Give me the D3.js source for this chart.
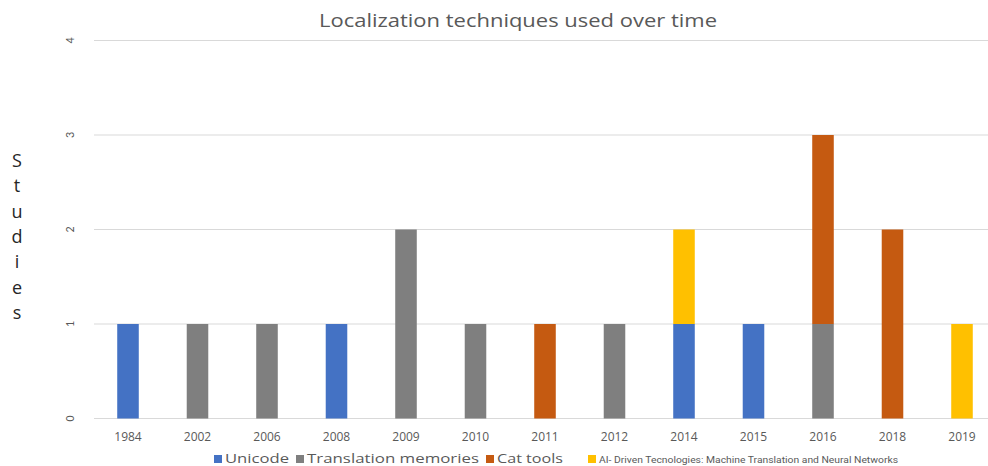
<!DOCTYPE html>
<html><head><meta charset="utf-8">
<script src="https://cdn.jsdelivr.net/npm/d3@7"></script>
<style>body{margin:0;background:#fff;overflow:hidden}svg{display:block}</style>
</head><body><svg id="c" width="988" height="466"></svg>
<script>
const years = ["1984","2002","2006","2008","2009","2010","2011","2012","2014","2015","2016","2018","2019"];
const seriesNames = ["Unicode","Translation memories","Cat tools","AI- Driven Tecnologies: Machine Translation and Neural Networks"];
const unicode =     [1,0,0,1,0,0,0,0,1,1,0,0,0];
const translationMemories = [0,1,1,0,2,1,0,1,0,0,1,0,0];
const catTools =    [0,0,0,0,0,0,1,0,0,0,2,2,0];
const aiDriven =    [0,0,0,0,0,0,0,0,1,0,0,0,1];
const yTicks = [0,1,2,3,4];
const colors = ["#4472C4","#7F7F7F","#C55A11","#FFC000"];

const svg = d3.select("#c");
const rows = years.map((y,i)=>({year:y, s0:unicode[i], s1:translationMemories[i], s2:catTools[i], s3:aiDriven[i]}));
const stack = d3.stack().keys(["s0","s1","s2","s3"])(rows);

const x = d3.scaleBand().domain(years).range([93.25, 996.75]).paddingInner(0.69).paddingOuter(0.345);
const y = d3.scaleLinear().domain([0,4]).range([418.5, 40.5]);

// gridlines
svg.append("g").selectAll("line").data(yTicks).join("line")
  .attr("x1",94).attr("x2",988)
  .attr("y1",d=>y(d)).attr("y2",d=>y(d))
  .attr("stroke","#d9d9d9").attr("stroke-width",1);

// y tick labels rotated
svg.append("g").selectAll("text").data(yTicks).join("text")
  .attr("transform",d=>`translate(74,${y(d)}) rotate(-90)`)
  .attr("text-anchor","middle").attr("font-family","Calibri, Carlito, 'Liberation Sans', sans-serif")
  .attr("font-size",12).attr("fill","#595959").text(d=>d);

// bars
svg.append("g").selectAll("g").data(stack).join("g")
  .attr("fill",(d,i)=>colors[i])
  .selectAll("rect").data(d=>d.filter(p=>p[1]>p[0])).join("rect")
  .attr("x",d=>x(d.data.year)).attr("width",x.bandwidth())
  .attr("y",d=>y(d[1])).attr("height",d=>y(d[0])-y(d[1]));

// x labels
svg.append("g").selectAll("text").data(years).join("text")
  .attr("x",d=>x(d)+x.bandwidth()/2).attr("y",441)
  .attr("text-anchor","middle").attr("font-family","'Open Sans', 'Noto Sans', sans-serif")
  .attr("font-size",12).attr("fill","#595959").text(d=>d);

// title
svg.append("text").attr("x",518).attr("y",27).attr("text-anchor","middle")
  .attr("font-family","'Open Sans', 'Noto Sans', sans-serif").attr("font-size",18)
  .attr("textLength",398).attr("lengthAdjust","spacingAndGlyphs")
  .attr("fill","#595959").text("Localization techniques used over time");

// y-axis title: stacked letters
const ytitle = "Studies".split("");
svg.append("g").selectAll("text").data(ytitle).join("text")
  .attr("x",17).attr("y",(d,i)=>167+i*25.3).attr("text-anchor","middle")
  .attr("font-family","'Open Sans', 'Noto Sans', sans-serif").attr("font-size",18)
  .attr("fill","#262626").text(d=>d);

// legend
const legendPos = [
  {sx:214, tx:225, tw:64, fs:12, ff:"'Open Sans', sans-serif"},
  {sx:296, tx:307, tw:172, fs:12, ff:"'Open Sans', sans-serif"},
  {sx:486, tx:497, tw:66, fs:12, ff:"'Open Sans', sans-serif"},
  {sx:588, tx:599, tw:299, fs:9, ff:"'Liberation Sans Narrow','Arial Narrow',Roboto,sans-serif"}
];
const lg = svg.append("g").selectAll("g").data(seriesNames).join("g");
lg.append("rect").attr("x",(d,i)=>legendPos[i].sx).attr("y",455).attr("width",8).attr("height",8)
  .attr("fill",(d,i)=>colors[i]);
lg.append("text").attr("x",(d,i)=>legendPos[i].tx).attr("y",463)
  .attr("font-family",(d,i)=>legendPos[i].ff).attr("font-size",(d,i)=>legendPos[i].fs)
  .attr("textLength",(d,i)=>legendPos[i].tw).attr("lengthAdjust","spacingAndGlyphs")
  .attr("fill","#595959").text(d=>d);
</script></body></html>
